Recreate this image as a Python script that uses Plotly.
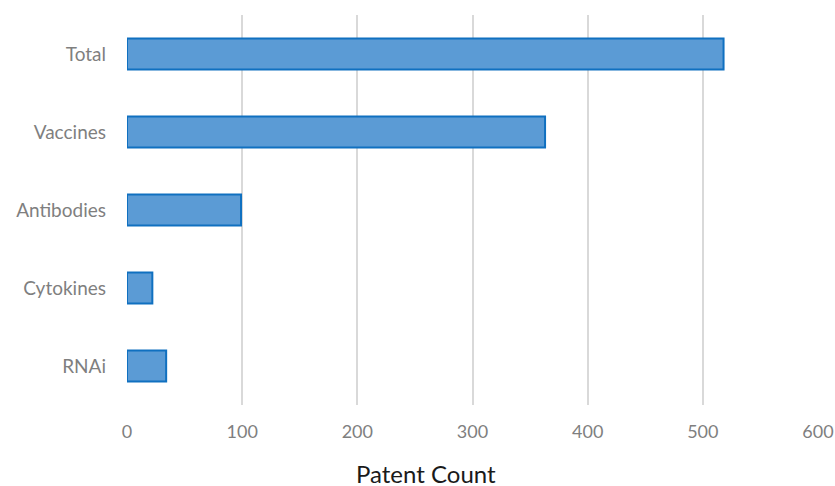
import plotly.graph_objects as go

categories = ["Total", "Vaccines", "Antibodies", "Cytokines", "RNAi"]
counts = [518, 363, 99, 22, 34]
x_ticks = [0, 100, 200, 300, 400, 500, 600]
x_title = "Patent Count"

fig = go.Figure(go.Bar(
    y=categories,
    x=counts,
    orientation="h",
    marker=dict(color="#5B9BD5", line=dict(color="#1070C0", width=2)),
))

fig.update_layout(
    width=835, height=486,
    margin=dict(l=127, r=17, t=15, b=81),
    plot_bgcolor="white", paper_bgcolor="white",
    bargap=0.6,
    showlegend=False,
    font=dict(family="Lato", color="#7F7F7F", size=19),
    annotations=[dict(
        text=x_title, xref="paper", yref="paper",
        x=0.433, y=-0.176, xanchor="center", yanchor="middle",
        showarrow=False, font=dict(size=24, color="#1a1a1a"),
    )],
)
fig.update_xaxes(
    range=[0, 600], tickvals=x_ticks,
    showgrid=True, gridcolor="#D9D9D9", gridwidth=2,
    zeroline=False, showline=False, automargin=False,
    ticks="", ticklabelstandoff=14,
    tickfont=dict(size=18, color="#7F7F7F"),
)
fig.update_yaxes(
    categoryorder="array", categoryarray=categories[::-1],
    showgrid=False, zeroline=False, showline=False, automargin=False,
    ticks="", ticklabelstandoff=20,
    tickfont=dict(size=19, color="#7F7F7F"),
)

# remove the page's default 8px body margin so the figure fills the window exactly
fig.write_html(
    "out.html",
    config={"displayModeBar": False},
    post_script="document.body.style.margin='0';document.body.style.overflow='hidden';",
)
